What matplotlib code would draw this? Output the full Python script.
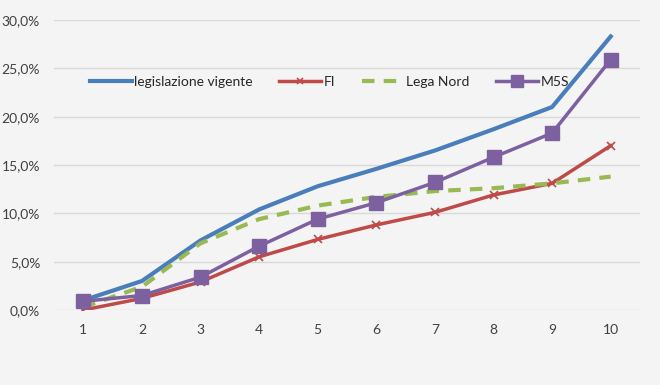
import matplotlib
matplotlib.use("Agg")
import matplotlib.pyplot as plt
from matplotlib.ticker import FuncFormatter

plt.rcParams['font.family'] = ['Lato', 'DejaVu Sans']

anni = [1, 2, 3, 4, 5, 6, 7, 8, 9, 10]
legislazione = [1.0, 3.0, 7.2, 10.4, 12.8, 14.6, 16.5, 18.7, 21.0, 28.3]
fi = [0.0, 1.2, 2.9, 5.5, 7.3, 8.8, 10.1, 11.9, 13.1, 17.0]
lega = [0.3, 2.4, 6.9, 9.4, 10.8, 11.7, 12.3, 12.6, 13.1, 13.8]
m5s = [0.9, 1.5, 3.4, 6.6, 9.4, 11.1, 13.2, 15.8, 18.3, 25.9]

bg = '#f4f4f4'
fig = plt.figure(figsize=(6.6, 3.85), dpi=100, facecolor=bg)
ax = fig.add_axes([54/660, 75/385, 586/660, 290/385], facecolor=bg)

ax.plot(anni, legislazione, color='#4a7ebb', lw=3, label='legislazione vigente')
ax.plot(anni, fi, color='#be4b48', lw=2.5, marker='x', ms=6, mew=1.2, label='FI')
ax.plot(anni, lega, color='#98b954', lw=3, ls=(0, (3, 2.2)), label='Lega Nord')
ax.plot(anni, m5s, color='#7d60a0', lw=2.5, marker='s', ms=10, label='M5S')

ax.set_xlim(0.5, 10.5)
ax.set_ylim(0, 30)
ax.set_xticks(anni)
ax.set_yticks([0, 5, 10, 15, 20, 25, 30])
ax.yaxis.set_major_formatter(FuncFormatter(lambda v, p: ('%.1f%%' % v).replace('.', ',')))
ax.grid(axis='y', color='#d9d9d9', lw=1)
ax.set_axisbelow(True)
for s in ax.spines.values():
    s.set_visible(False)
ax.tick_params(length=0, labelsize=10, colors='#404040')
ax.tick_params(axis='x', pad=10)
ax.tick_params(axis='y', pad=10)

leg = ax.legend(loc='center left', bbox_to_anchor=(0.04, 0.785), ncol=4, frameon=False,
                fontsize=10, handlelength=3.0, handletextpad=0.2, columnspacing=1.9,
                labelcolor='#262626', markerscale=0.8)

fig.savefig('out.png', dpi=100, facecolor=bg)
